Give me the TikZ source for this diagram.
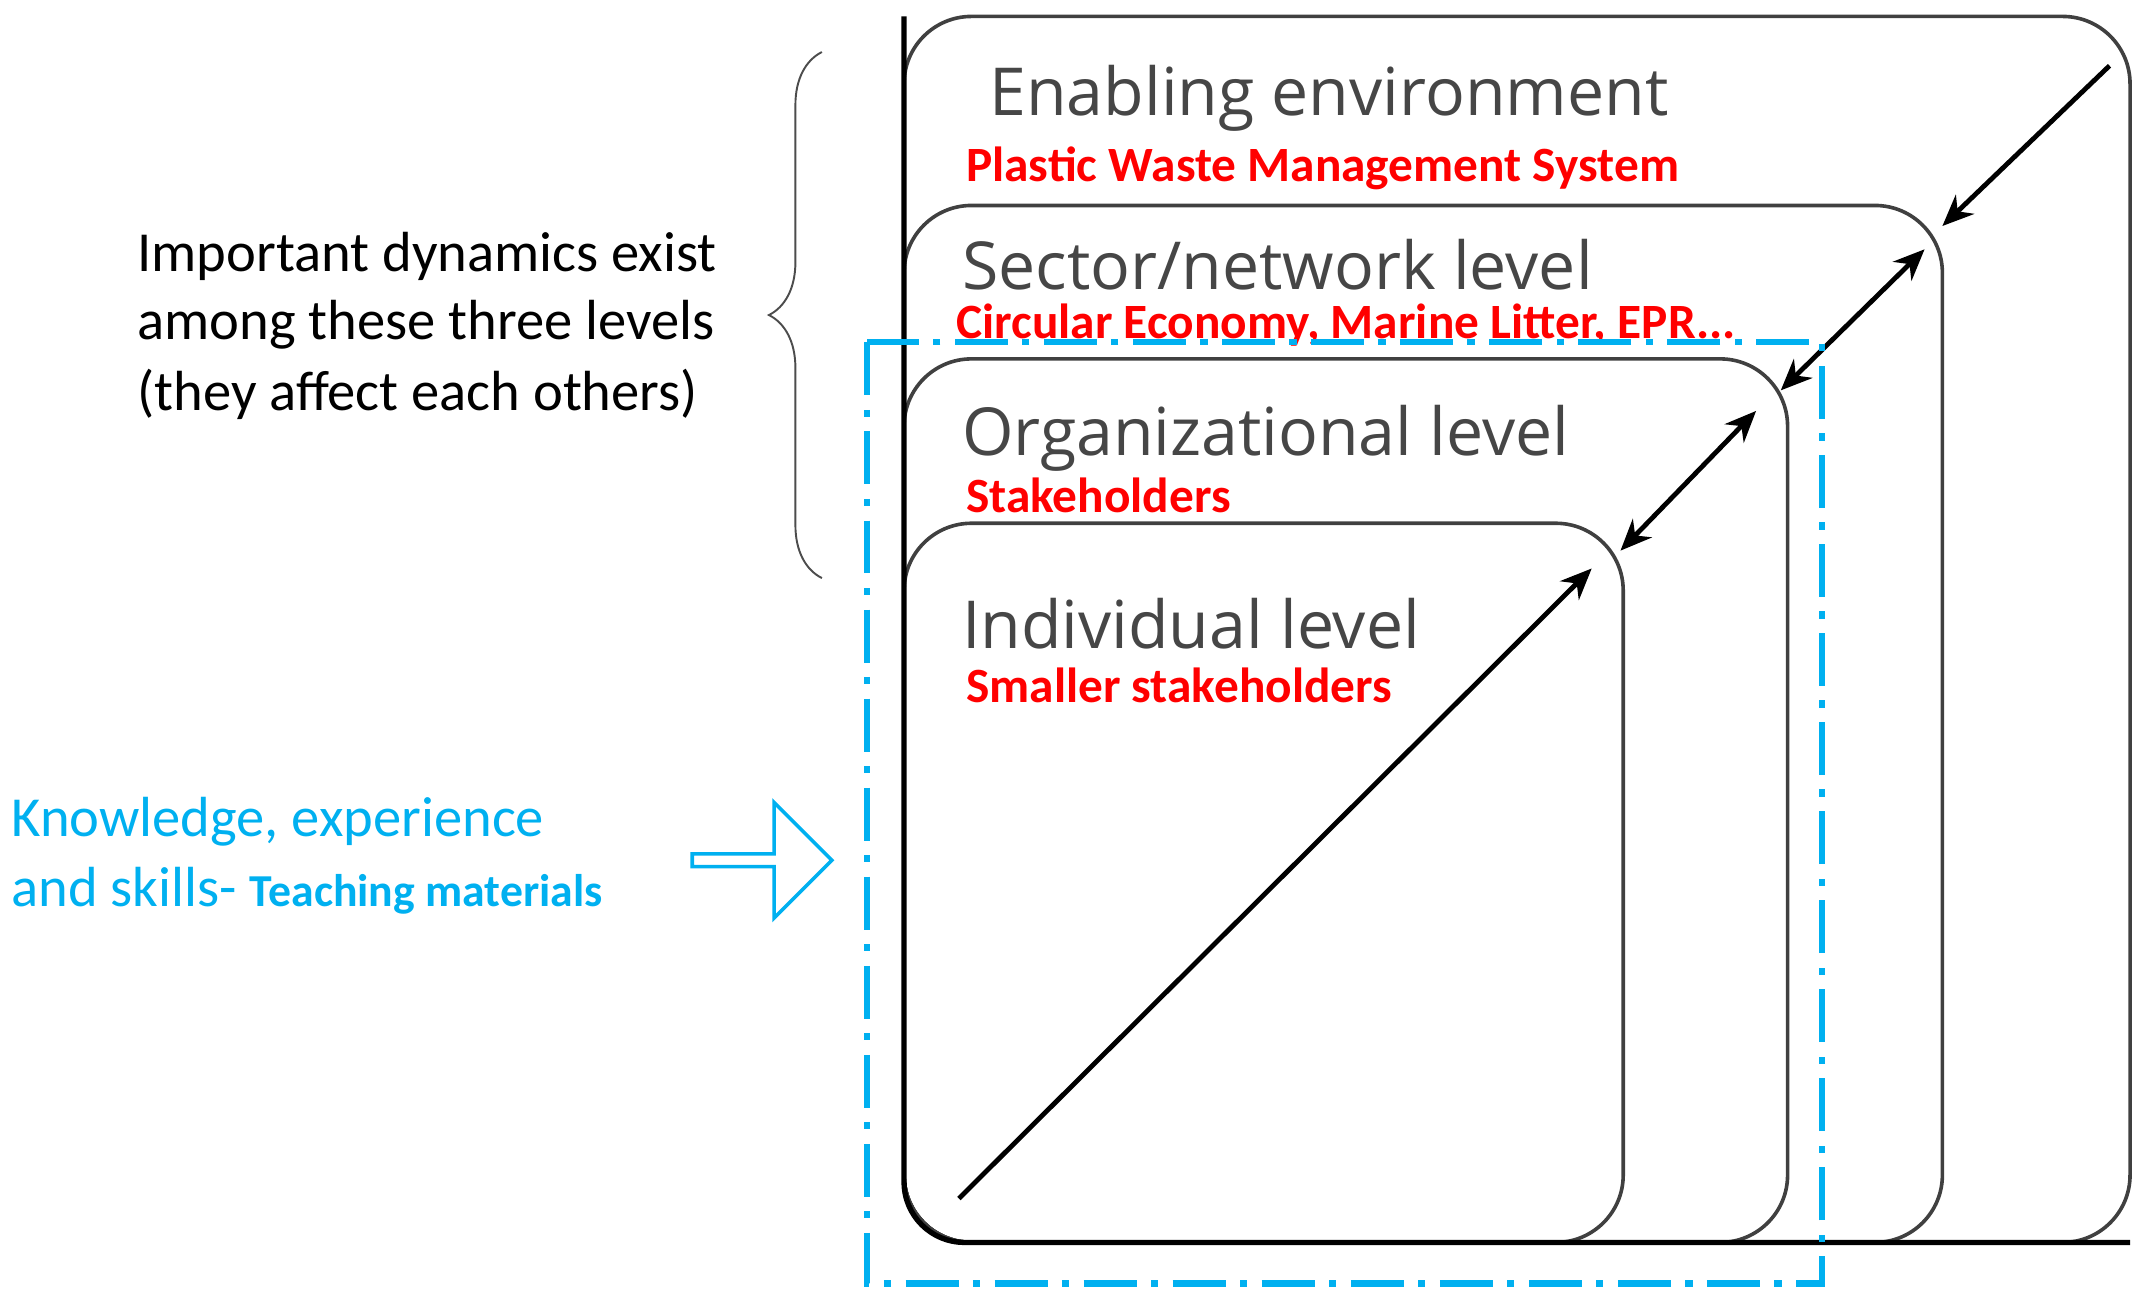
\documentclass[tikz,border=0pt]{standalone}
\usepackage{fontspec}
\setmainfont{Carlito}
\newfontfamily\titlefont{Open Sans}
\usetikzlibrary{arrows.meta,decorations.pathreplacing,shapes.arrows}
\definecolor{skyb}{RGB}{0,176,240}
\definecolor{txtgray}{RGB}{70,70,70}
\tikzset{
  box/.style={draw=black!75, line width=1.5pt, rounded corners=28pt},
  ttl/.style={anchor=west, inner sep=0pt, text=txtgray, font=\titlefont\fontsize{27.5}{30}\selectfont},
  redtxt/.style={anchor=west, inner sep=0pt, text=red, font=\bfseries\fontsize{20.5}{22}\selectfont},
  dbl/.style={line width=2pt, {Stealth[length=13pt,width=11pt]}-{Stealth[length=13pt,width=11pt]}},
  sgl/.style={line width=2pt, -{Stealth[length=13pt,width=11pt]}},
  lft/.style={anchor=west, inner sep=0pt, font=\fontsize{23.5}{27}\selectfont},
}
\begin{document}
\begin{tikzpicture}[x=0.02cm,y=-0.02cm]
\useasboundingbox (0,0) rectangle (1563,949);
% boxes
\draw[box] (660,12) rectangle (1555,907);
\draw[box] (660,150) rectangle (1418,907);
\draw[box] (660,262) rectangle (1305,907);
\draw[box] (660,382) rectangle (1185,907);
\draw[line width=2.2pt, rounded corners=25pt] (660,12) -- (660,907) -- (1555,907);
% coordinates for arrows
\coordinate (a1) at (1540,48); \coordinate (a2) at (1418,165);
\coordinate (b1) at (1405,182); \coordinate (b2) at (1300,285);
\coordinate (c1) at (1282,300); \coordinate (c2) at (1183,402);
\coordinate (d1) at (700,875); \coordinate (d2) at (1162,415);
\draw[sgl] (a1) -- (a2);
\draw[dbl] (b1) -- (b2);
\draw[dbl] (c1) -- (c2);
\draw[sgl] (d1) -- (d2);
% texts
\node[ttl] (t1) at (722,72) {Enabling environment};
\node[redtxt] (r1) at (705,123) {Plastic Waste Management System};
\node[ttl] (t2) at (702,193) {Sector/network level};
\node[redtxt] (r2) at (698,237) {Circular Economy, Marine Litter, EPR...};
\node[ttl] (t3) at (702,320) {Organizational level};
\node[redtxt] (r3) at (705,362) {Stakeholders};
\node[ttl] (t4) at (702,455) {Individual level};
\node[redtxt] (r4) at (705,500) {Smaller stakeholders};
% left text
\node[lft] (l1) at (100,187) {Important dynamics exist};
\node[lft] (l2) at (100,237) {among these three levels};
\node[lft] (l3) at (100,288) {(they affect each others)};
\draw[black!70, line width=0.8pt, decorate, decoration={brace, amplitude=22pt}] (600,422) -- (600,38);
% blue dash-dot
\draw[skyb, line width=2.5pt, dash pattern=on 22pt off 6pt on 3pt off 6pt] (633,250) rectangle (1330,937);
\node[anchor=west, inner sep=0pt, text=skyb, font=\fontsize{23.5}{27}\selectfont] (k1) at (8,600) {Knowledge, experience};
\node[anchor=west, inner sep=0pt, text=skyb, font=\fontsize{23.5}{27}\selectfont] (k2) at (8,650) {and skills- {\bfseries\fontsize{19}{21}\selectfont Teaching materials}};
\node[draw=skyb, line width=1.5pt, single arrow, minimum width=48pt, minimum height=58pt, single arrow head extend=6pt, inner sep=0pt] (ba) at (554,628) {};
\end{tikzpicture}
\end{document}
